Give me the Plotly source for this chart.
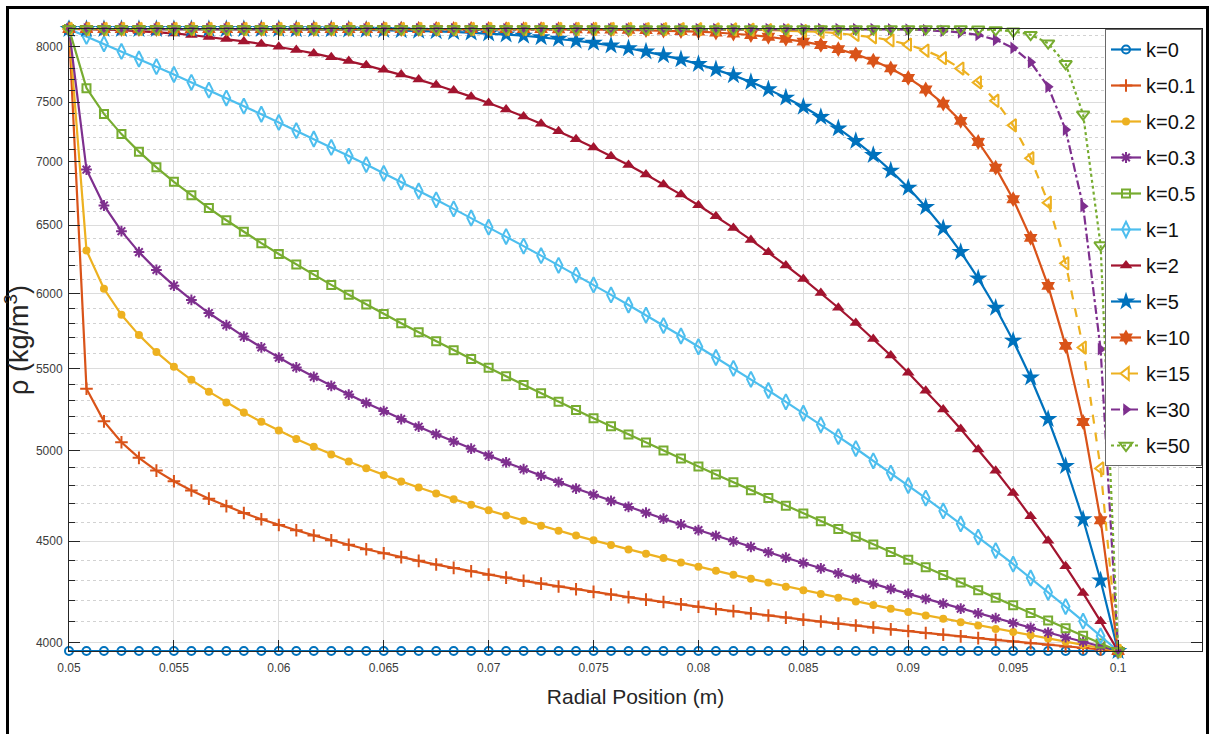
import numpy as np
import plotly.graph_objects as go

# ---------------- data ----------------
# 61 equally spaced radial sample positions between the inner and outer radius (m)
r = np.linspace(0.05, 0.1, 61)

labels = ["k=0", "k=0.1", "k=0.2", "k=0.3", "k=0.5", "k=1", "k=2", "k=5",
          "k=10", "k=15", "k=30", "k=50"]

rho_k0 = [3960, 3960, 3960, 3960, 3960, 3960, 3960, 3960, 3960, 3960,
          3960, 3960, 3960, 3960, 3960, 3960, 3960, 3960, 3960, 3960,
          3960, 3960, 3960, 3960, 3960, 3960, 3960, 3960, 3960, 3960,
          3960, 3960, 3960, 3960, 3960, 3960, 3960, 3960, 3960, 3960,
          3960, 3960, 3960, 3960, 3960, 3960, 3960, 3960, 3960, 3960,
          3960, 3960, 3960, 3960, 3960, 3960, 3960, 3960, 3960, 3960, 3960]

rho_k01 = [8166, 5373, 5173, 5049, 4958, 4885, 4825, 4773, 4728, 4687,
           4650, 4616, 4585, 4557, 4530, 4504, 4481, 4458, 4437, 4417,
           4398, 4379, 4362, 4345, 4328, 4313, 4297, 4283, 4269, 4255,
           4242, 4229, 4216, 4204, 4192, 4181, 4169, 4158, 4148, 4137,
           4127, 4117, 4107, 4098, 4088, 4079, 4070, 4061, 4053, 4044,
           4036, 4028, 4020, 4012, 4004, 3996, 3989, 3981, 3974, 3967, 3960]

rho_k02 = [8166, 6311, 6036, 5856, 5719, 5607, 5512, 5429, 5355, 5288,
           5227, 5170, 5118, 5068, 5022, 4978, 4937, 4898, 4860, 4824,
           4790, 4757, 4725, 4694, 4664, 4636, 4608, 4581, 4555, 4529,
           4504, 4480, 4457, 4434, 4412, 4390, 4368, 4348, 4327, 4307,
           4288, 4268, 4250, 4231, 4213, 4195, 4178, 4160, 4144, 4127,
           4111, 4095, 4079, 4063, 4048, 4033, 4018, 4003, 3988, 3974, 3960]

rho_k03 = [8166, 6934, 6650, 6454, 6299, 6170, 6058, 5958, 5868, 5785,
           5709, 5638, 5571, 5508, 5448, 5391, 5337, 5285, 5235, 5187,
           5141, 5096, 5053, 5011, 4971, 4932, 4893, 4856, 4820, 4784,
           4750, 4716, 4683, 4651, 4619, 4588, 4558, 4528, 4499, 4470,
           4442, 4414, 4387, 4360, 4334, 4308, 4282, 4257, 4232, 4208,
           4184, 4160, 4137, 4114, 4091, 4068, 4046, 4024, 4003, 3981, 3960]

rho_k05 = [8166, 7623, 7398, 7226, 7080, 6952, 6836, 6729, 6630, 6537,
           6449, 6365, 6285, 6208, 6134, 6063, 5994, 5927, 5862, 5799,
           5738, 5678, 5619, 5562, 5506, 5451, 5397, 5345, 5293, 5242,
           5192, 5143, 5094, 5047, 5000, 4954, 4908, 4863, 4819, 4775,
           4732, 4689, 4647, 4605, 4564, 4523, 4483, 4443, 4404, 4365,
           4326, 4288, 4250, 4213, 4176, 4139, 4103, 4066, 4031, 3995, 3960]

rho_k1 = [8166, 8096, 8026, 7956, 7886, 7816, 7745, 7675, 7605, 7535,
          7465, 7395, 7325, 7255, 7185, 7115, 7044, 6974, 6904, 6834,
          6764, 6694, 6624, 6554, 6484, 6414, 6343, 6273, 6203, 6133,
          6063, 5993, 5923, 5853, 5783, 5713, 5642, 5572, 5502, 5432,
          5362, 5292, 5222, 5152, 5082, 5012, 4941, 4871, 4801, 4731,
          4661, 4591, 4521, 4451, 4381, 4311, 4240, 4170, 4100, 4030, 3960]

rho_k2 = [8166, 8165, 8161, 8155, 8147, 8137, 8124, 8109, 8091, 8071,
          8049, 8025, 7998, 7969, 7937, 7903, 7867, 7828, 7787, 7744,
          7699, 7651, 7601, 7548, 7493, 7436, 7376, 7314, 7250, 7183,
          7114, 7043, 6970, 6894, 6815, 6735, 6652, 6567, 6479, 6389,
          6297, 6202, 6105, 6006, 5904, 5800, 5694, 5585, 5474, 5361,
          5245, 5127, 5007, 4884, 4759, 4632, 4502, 4370, 4236, 4099, 3960]

rho_k5 = [8166, 8166, 8166, 8166, 8166, 8166, 8166, 8166, 8166, 8166,
          8165, 8165, 8165, 8164, 8163, 8162, 8160, 8158, 8156, 8153,
          8149, 8144, 8138, 8131, 8123, 8113, 8102, 8088, 8073, 8055,
          8035, 8011, 7985, 7954, 7920, 7882, 7839, 7791, 7737, 7678,
          7612, 7539, 7459, 7371, 7274, 7168, 7052, 6925, 6788, 6638,
          6476, 6300, 6109, 5904, 5682, 5444, 5187, 4911, 4616, 4299, 3960]

rho_k10 = [8166, 8166, 8166, 8166, 8166, 8166, 8166, 8166, 8166, 8166,
           8166, 8166, 8166, 8166, 8166, 8166, 8166, 8166, 8166, 8166,
           8166, 8166, 8166, 8166, 8166, 8165, 8165, 8165, 8164, 8163,
           8162, 8160, 8158, 8155, 8152, 8147, 8141, 8133, 8122, 8109,
           8093, 8073, 8047, 8016, 7977, 7929, 7871, 7800, 7714, 7611,
           7487, 7338, 7160, 6949, 6699, 6404, 6056, 5648, 5169, 4611, 3960]

rho_k15 = [8166, 8166, 8166, 8166, 8166, 8166, 8166, 8166, 8166, 8166,
           8166, 8166, 8166, 8166, 8166, 8166, 8166, 8166, 8166, 8166,
           8166, 8166, 8166, 8166, 8166, 8166, 8166, 8166, 8166, 8166,
           8166, 8166, 8166, 8165, 8165, 8165, 8164, 8163, 8162, 8159,
           8156, 8152, 8146, 8138, 8126, 8110, 8088, 8058, 8018, 7964,
           7893, 7799, 7674, 7512, 7300, 7026, 6672, 6217, 5637, 4897, 3960]

rho_k30 = [8166, 8166, 8166, 8166, 8166, 8166, 8166, 8166, 8166, 8166,
           8166, 8166, 8166, 8166, 8166, 8166, 8166, 8166, 8166, 8166,
           8166, 8166, 8166, 8166, 8166, 8166, 8166, 8166, 8166, 8166,
           8166, 8166, 8166, 8166, 8166, 8166, 8166, 8166, 8166, 8166,
           8166, 8166, 8166, 8166, 8166, 8165, 8165, 8163, 8161, 8156,
           8148, 8134, 8109, 8064, 7988, 7857, 7635, 7263, 6645, 5626, 3960]

rho_k50 = [8166, 8166, 8166, 8166, 8166, 8166, 8166, 8166, 8166, 8166,
           8166, 8166, 8166, 8166, 8166, 8166, 8166, 8166, 8166, 8166,
           8166, 8166, 8166, 8166, 8166, 8166, 8166, 8166, 8166, 8166,
           8166, 8166, 8166, 8166, 8166, 8166, 8166, 8166, 8166, 8166,
           8166, 8166, 8166, 8166, 8166, 8166, 8166, 8166, 8166, 8166,
           8166, 8165, 8163, 8157, 8144, 8112, 8032, 7842, 7394, 6351, 3960]

series = [rho_k0, rho_k01, rho_k02, rho_k03, rho_k05, rho_k1, rho_k2,
          rho_k5, rho_k10, rho_k15, rho_k30, rho_k50]

x_tickvals = [0.05, 0.055, 0.06, 0.065, 0.07, 0.075, 0.08, 0.085, 0.09, 0.095, 0.1]
x_ticktext = ["0.05", "0.055", "0.06", "0.065", "0.07", "0.075", "0.08",
              "0.085", "0.09", "0.095", "0.1"]
y_tickvals = [4000, 4500, 5000, 5500, 6000, 6500, 7000, 7500, 8000]
y_ticktext = ["4000", "4500", "5000", "5500", "6000", "6500", "7000", "7500", "8000"]
y_minorvals = [v for v in range(4000, 8200, 100) if v not in y_tickvals]

# ---------------- styles ----------------
colors = ["#0072BD", "#D95319", "#EDB120", "#7E2F8E", "#77AC30", "#4DBEEE",
          "#A2142F", "#0072BD", "#D95319", "#EDB120", "#7E2F8E", "#77AC30"]
symbols = ["circle-open", "cross-thin-open", "circle", "asterisk-open",
           "square-open", "diamond-tall-open", "triangle-up", "star",
           "hexagram", "triangle-left-open", "triangle-right", "triangle-down-open"]
msizes = [8, 9, 8, 9, 8, 11, 11, 14, 12, 11, 11, 11]
dashes = ["solid"] * 9 + ["dash", "dashdot", "dot"]

FONT = "Liberation Sans, Arial, sans-serif"
AXC = "#262626"

fig = go.Figure()
for i, (lab, y) in enumerate(zip(labels, series)):
    c = colors[i]
    is_open = symbols[i].endswith("-open")
    marker = dict(symbol=symbols[i], size=msizes[i], color=c,
                  line=dict(color=c, width=2 if is_open else 0))
    fig.add_trace(go.Scatter(
        x=r, y=y, mode="lines+markers", name=lab,
        legendgroup=str(i),
        line=dict(color=c, width=2.2, dash=dashes[i]),
        marker=marker, cliponaxis=False))

W, H = 1209, 734
L, R, T, B = 69, 7, 29, 83
pw, ph = W - L - R, H - T - B

def px_x(px):
    return (px - L) / pw

def px_y(py):
    return (H - B - py) / ph

fig.update_layout(
    width=W, height=H,
    margin=dict(l=L, r=R, t=T, b=B, autoexpand=False),
    paper_bgcolor="white", plot_bgcolor="white",
    showlegend=True,
    legend=dict(x=1, xanchor="right", y=1, yanchor="top",
                bgcolor="white", bordercolor="#6a6a6a", borderwidth=1,
                font=dict(family=FONT, size=20, color="#111111"),
                itemwidth=30, tracegroupgap=7, traceorder="grouped"),
    xaxis=dict(
        range=[0.05, 0.104], tickmode="array", tickvals=x_tickvals, ticktext=x_ticktext,
        showgrid=True, gridcolor="#dcdcdc", gridwidth=1, zeroline=False,
        ticks="inside", ticklen=11, tickwidth=1, tickcolor=AXC,
        showline=True, linecolor=AXC, linewidth=1, mirror="ticks",
        tickfont=dict(family=FONT, size=12, color="#3c3c3c"),
        ticklabelstandoff=6,
        title=dict(text="Radial Position (m)", standoff=14,
                   font=dict(family=FONT, size=21, color=AXC)),
    ),
    yaxis=dict(
        type="log", range=[np.log10(3960), np.log10(8166)],
        tickmode="array", tickvals=y_tickvals, ticktext=y_ticktext,
        showgrid=True, gridcolor="#dcdcdc", gridwidth=1, zeroline=False,
        ticks="inside", ticklen=11, tickwidth=1, tickcolor=AXC,
        showline=True, linecolor=AXC, linewidth=1, mirror="ticks",
        tickfont=dict(family=FONT, size=12, color="#3c3c3c"),
        ticklabelstandoff=3,
        minor=dict(tickmode="array", tickvals=y_minorvals, ticks="inside",
                   ticklen=6, tickcolor=AXC, showgrid=True,
                   gridcolor="#d2d2d2", griddash="dot", gridwidth=1),
        title=dict(text="ρ (kg/m<sup>3</sup>)", standoff=4,
                   font=dict(family=FONT, size=27, color=AXC)),
    ),
    shapes=[dict(type="rect", xref="paper", yref="paper",
                 x0=px_x(7.5), x1=px_x(1207.5), y0=px_y(745), y1=px_y(7.5),
                 line=dict(color="black", width=3), fillcolor="rgba(0,0,0,0)",
                 layer="above")],
)

fig.write_html("out.html",
               config={"displayModeBar": False},
               post_script="document.body.style.margin='0px';document.body.style.overflow='hidden';")
